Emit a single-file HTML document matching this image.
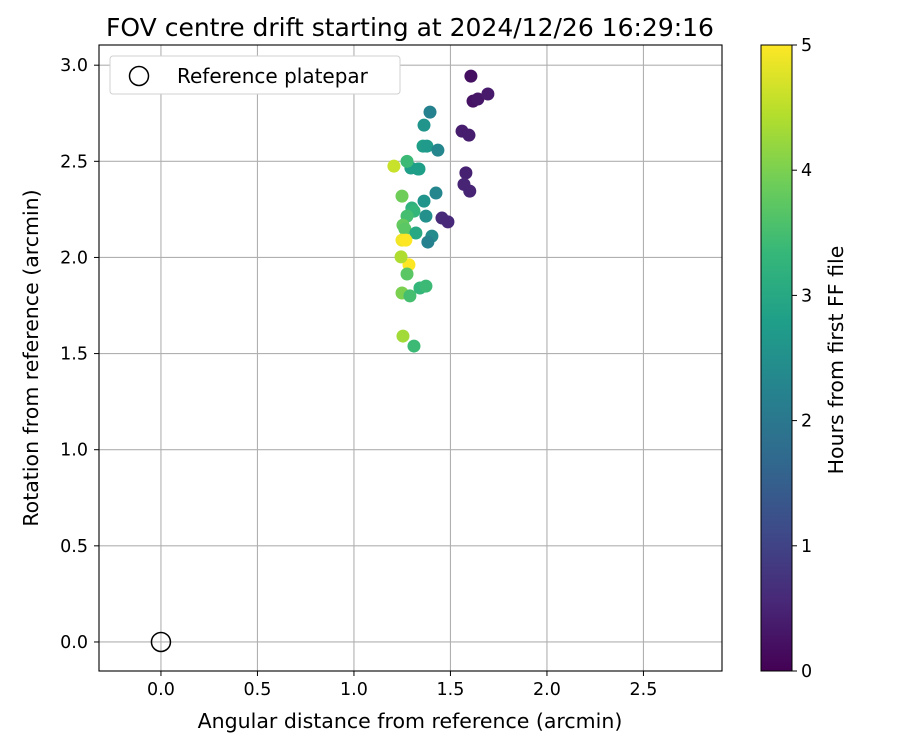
<!DOCTYPE html>
<html><head><meta charset="utf-8"><style>
body{margin:0;background:#fff}
svg text{font-family:"DejaVu Sans","Liberation Sans",sans-serif;fill:#000}
</style></head><body>
<svg id="c" width="900" height="750"></svg>
<script>
const xs=[1.606,1.617,1.642,1.694,1.56,1.596,1.58,1.57,1.60,1.456,1.487,1.394,1.363,1.358,1.378,1.435,1.332,1.295,1.275,1.207,1.337,1.425,1.363,1.30,1.311,1.373,1.275,1.254,1.264,1.404,1.383,1.321,1.249,1.249,1.269,1.285,1.244,1.275,1.249,1.29,1.342,1.373,1.254,1.311];
const ys=[2.943,2.813,2.824,2.85,2.657,2.636,2.44,2.38,2.345,2.205,2.185,2.756,2.688,2.579,2.579,2.558,2.46,2.465,2.50,2.475,2.46,2.335,2.293,2.257,2.241,2.215,2.215,2.168,2.148,2.111,2.08,2.127,2.319,2.09,2.09,1.962,2.003,1.914,1.815,1.8,1.841,1.851,1.591,1.539];
const hours=[0.2,0.25,0.3,0.35,0.4,0.4,0.45,0.5,0.5,0.6,0.55,2.2,2.6,2.8,2.7,2.3,2.6,2.8,3.4,4.6,2.8,2.3,2.6,3.2,3.3,2.5,3.5,3.8,3.7,2.4,2.2,3.0,3.9,4.9,5.0,5.0,4.4,3.7,4.0,3.5,3.3,3.4,4.3,3.4];
const xTicks=[0,0.5,1,1.5,2,2.5];
const xTickLabels=["0.0","0.5","1.0","1.5","2.0","2.5"];
const yTicks=[0,0.5,1,1.5,2,2.5,3];
const yTickLabels=["0.0","0.5","1.0","1.5","2.0","2.5","3.0"];
const cTicks=[0,1,2,3,4,5];
const L=99,R=722,T=45,B=671,xmin=-0.321,xmax=2.907,ymin=-0.151,ymax=3.105;
const sx=v=>L+(v-xmin)/(xmax-xmin)*(R-L);
const sy=v=>B-(v-ymin)/(ymax-ymin)*(B-T);
const vir=[[68,1,84],[72,40,120],[62,74,137],[49,104,142],[38,130,142],[31,158,137],[53,183,121],[109,205,89],[180,222,44],[253,231,37]];
function col(h){let t=Math.max(0,Math.min(1,h/5))*9,i=Math.min(8,Math.floor(t)),f=t-i;const a=vir[i],b=vir[i+1];return `rgb(${a.map((v,k)=>Math.round(v+(b[k]-v)*f)).join(',')})`;}
const svg=document.getElementById('c');const NS='http://www.w3.org/2000/svg';
function el(tag,at,name,txt){const e=document.createElementNS(NS,tag);for(const k in at)e.setAttribute(k,at[k]);


if(txt!==undefined)e.textContent=txt;svg.appendChild(e);return e;}
el('text',{x:410,y:36,'font-size':'25','text-anchor':'middle'},'chart-title','FOV centre drift starting at 2024/12/26 16:29:16');
xTicks.forEach((v,i)=>{const x=sx(v);el('line',{x1:x,x2:x,y1:T,y2:B,stroke:'#b0b0b0','stroke-width':1.1},'x-gridline');
el('line',{x1:x,x2:x,y1:B,y2:B+5,stroke:'#000'},'x-tick');
el('text',{x:x,y:B+24,'font-size':'17.5','text-anchor':'middle'},'x-tick-label',xTickLabels[i]);});
yTicks.forEach((v,i)=>{const y=sy(v);el('line',{x1:L,x2:R,y1:y,y2:y,stroke:'#b0b0b0','stroke-width':1.1},'y-gridline');
el('line',{x1:L-5,x2:L,y1:y,y2:y,stroke:'#000'},'y-tick');
el('text',{x:L-11,y:y+6,'font-size':'17.5','text-anchor':'end'},'y-tick-label',yTickLabels[i]);});
el('circle',{cx:sx(0),cy:sy(0),r:9.5,fill:'none',stroke:'#000','stroke-width':1.5},'reference-platepar-marker');
xs.forEach((v,i)=>{el('circle',{cx:sx(v),cy:sy(ys[i]),r:6.5,fill:col(hours[i])},'drift-point');});
el('rect',{x:L,y:T,width:R-L,height:B-T,fill:'none',stroke:'#000','stroke-width':1.1},'plot-frame');
el('text',{x:410,y:728,'font-size':'20.5','text-anchor':'middle'},'x-axis-title','Angular distance from reference (arcmin)');
el('text',{x:38,y:358,'font-size':'20.5','text-anchor':'middle',transform:'rotate(-90 38 358)'},'y-axis-title','Rotation from reference (arcmin)');
el('rect',{x:110,y:56,width:290,height:38,fill:'#fff',stroke:'#d0d0d0',rx:3},'legend');
el('circle',{cx:139,cy:76,r:9.5,fill:'none',stroke:'#000','stroke-width':1.5},'legend-marker');
el('text',{x:177,y:83,'font-size':'20'},'legend-label','Reference platepar');
const defs=el('defs',{},'defs');const g=document.createElementNS(NS,'linearGradient');g.setAttribute('id','vg');g.setAttribute('x1','0');g.setAttribute('y1','1');g.setAttribute('x2','0');g.setAttribute('y2','0');
vir.forEach((c,i)=>{const s=document.createElementNS(NS,'stop');s.setAttribute('offset',i/9);s.setAttribute('stop-color',`rgb(${c})`);g.appendChild(s);});defs.appendChild(g);
const CL=761,CR=792;
el('rect',{x:CL,y:T,width:CR-CL,height:B-T,fill:'url(#vg)',stroke:'#000','stroke-width':1},'colorbar');
cTicks.forEach(v=>{const y=B-v/5*(B-T);el('line',{x1:CR,x2:CR+5,y1:y,y2:y,stroke:'#000'},'colorbar-tick');
el('text',{x:CR+9,y:y+6,'font-size':'17.5'},'colorbar-tick-label',String(v));});
el('text',{x:843,y:360,'font-size':'20.5','text-anchor':'middle',transform:'rotate(-90 843 360)'},'colorbar-title','Hours from first FF file');
</script></body></html>
